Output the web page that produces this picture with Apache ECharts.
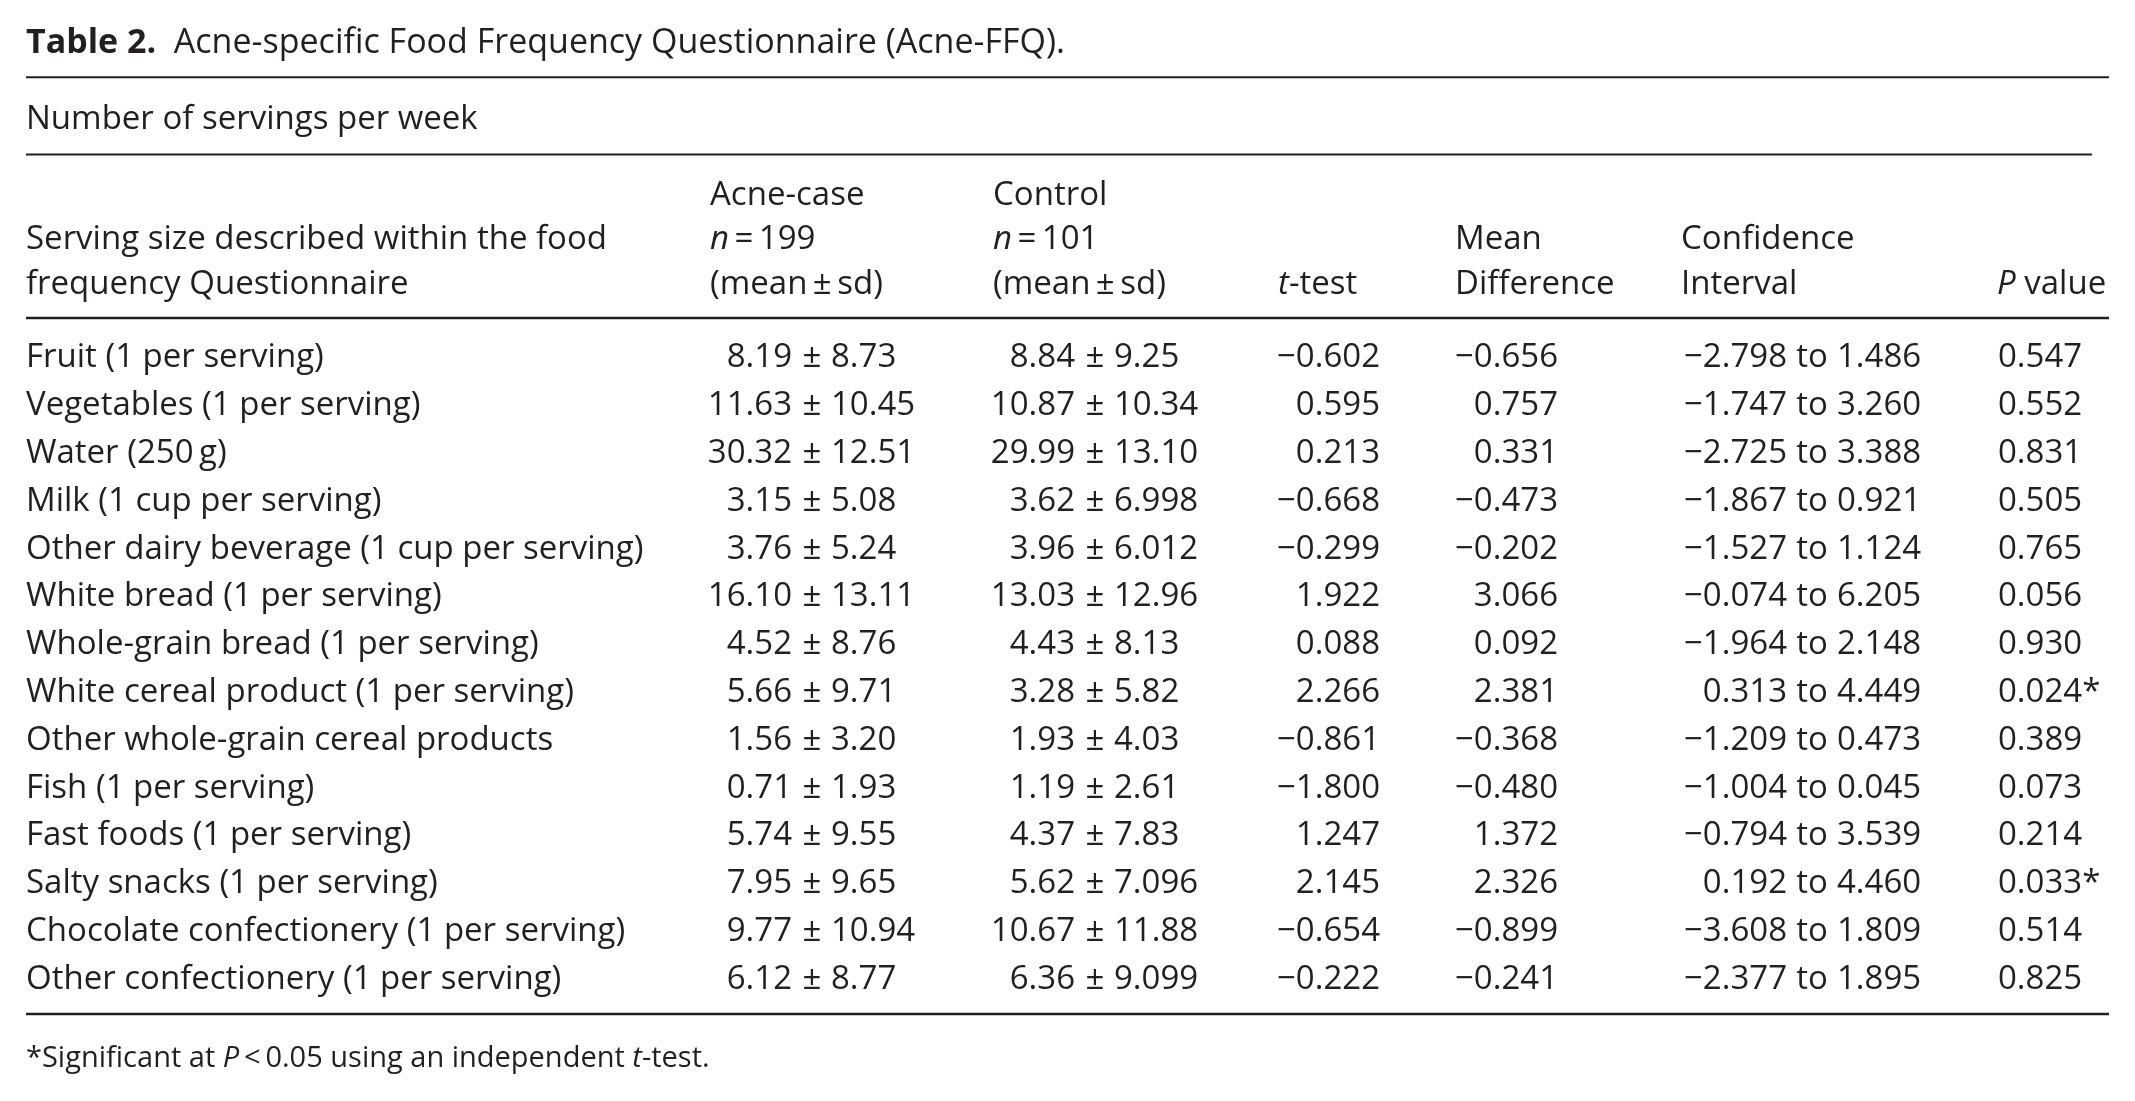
<!DOCTYPE html>
<html>
<head>
<meta charset="utf-8">
<title>Acne-FFQ table</title>
<script src="https://cdn.jsdelivr.net/npm/echarts@6/dist/echarts.min.js"></script>
<style>
  html, body { margin: 0; padding: 0; background: #fff; }
  #chart { width: 2135px; height: 1101px; }
</style>
</head>
<body>
<div id="chart"></div>
<script>
// table rows, kept as strings so the printed decimals stay as in the paper
const foods = [
  'Fruit (1 per serving)',
  'Vegetables (1 per serving)',
  'Water (250\u2009g)',
  'Milk (1 cup per serving)',
  'Other dairy beverage (1 cup per serving)',
  'White bread (1 per serving)',
  'Whole-grain bread (1 per serving)',
  'White cereal product (1 per serving)',
  'Other whole-grain cereal products',
  'Fish (1 per serving)',
  'Fast foods (1 per serving)',
  'Salty snacks (1 per serving)',
  'Chocolate confectionery (1 per serving)',
  'Other confectionery (1 per serving)'
]
const acneMean = ['8.19', '11.63', '30.32', '3.15', '3.76', '16.10', '4.52', '5.66', '1.56', '0.71', '5.74', '7.95', '9.77', '6.12']
const acneSd = ['8.73', '10.45', '12.51', '5.08', '5.24', '13.11', '8.76', '9.71', '3.20', '1.93', '9.55', '9.65', '10.94', '8.77']
const controlMean = ['8.84', '10.87', '29.99', '3.62', '3.96', '13.03', '4.43', '3.28', '1.93', '1.19', '4.37', '5.62', '10.67', '6.36']
const controlSd = ['9.25', '10.34', '13.10', '6.998', '6.012', '12.96', '8.13', '5.82', '4.03', '2.61', '7.83', '7.096', '11.88', '9.099']
const tTest = ['−0.602', '0.595', '0.213', '−0.668', '−0.299', '1.922', '0.088', '2.266', '−0.861', '−1.800', '1.247', '2.145', '−0.654', '−0.222']
const meanDiff = ['−0.656', '0.757', '0.331', '−0.473', '−0.202', '3.066', '0.092', '2.381', '−0.368', '−0.480', '1.372', '2.326', '−0.899', '−0.241']
const ciLow = ['−2.798', '−1.747', '−2.725', '−1.867', '−1.527', '−0.074', '−1.964', '0.313', '−1.209', '−1.004', '−0.794', '0.192', '−3.608', '−2.377']
const ciHigh = ['1.486', '3.260', '3.388', '0.921', '1.124', '6.205', '2.148', '4.449', '0.473', '0.045', '3.539', '4.460', '1.809', '1.895']
const pValue = ['0.547', '0.552', '0.831', '0.505', '0.765', '0.056', '0.930', '0.024*', '0.389', '0.073', '0.214', '0.033*', '0.514', '0.825']

const INK = '#231f20'
const FAMILY = '"Open Sans", Lato, sans-serif'
const BODY = 33
const midOf = size => size * 0.26   // baseline -> text middle

// column anchors (px)
const COL = {
  food: 26,
  acnePm: 812, control: 1095,
  tRight: 1380, diffRight: 1558,
  toMid: 1812, pLeft: 1998
}

const chart = echarts.init(document.getElementById('chart'))

const txt = (x, base, text, size = BODY) => ({
  type: 'text',
  style: {
    x, y: base - midOf(size), text,
    fill: INK, fontFamily: FAMILY, fontSize: size,
    align: 'left', verticalAlign: 'middle',
    rich: {
      i: { fontStyle: 'italic', fontFamily: FAMILY, fontSize: size, fill: INK },
      b: { fontWeight: 'bold', fontFamily: FAMILY, fontSize: size, fill: INK }
    }
  }
})

const rule = (y, x2, w) => ({
  type: 'line',
  shape: { x1: 26, y1: y, x2, y2: y },
  style: { stroke: INK, lineWidth: w }
})

const L1 = 204, L2 = 248.5, L3 = 293.5
const ROW1 = 366.5, ROWH = 47.8
const gridTop = ROW1 - midOf(BODY) - ROWH / 2

chart.setOption({
  animation: false,
  grid: { left: 0, right: 0, top: gridTop, bottom: 1101 - gridTop - ROWH * foods.length },
  xAxis: { type: 'value', min: 0, max: 2135, show: false },
  yAxis: { type: 'category', data: foods, inverse: true, show: false },
  graphic: [
    txt(26, 51.7, '{b|Table 2.}  Acne-specific Food Frequency Questionnaire (Acne-FFQ).', 34),
    rule(77.3, 2109, 2),
    txt(26, 128.3, 'Number of servings per week'),
    rule(154.5, 2092, 2),
    txt(26, L2, 'Serving size described within the food'),
    txt(26, L3, 'frequency Questionnaire'),
    txt(710, L1, 'Acne-case'),
    txt(710, L2, '{i|n}\u2009=\u2009199'),
    txt(710, L3, '(mean\u2009±\u2009sd)'),
    txt(993, L1, 'Control'),
    txt(993, L2, '{i|n}\u2009=\u2009101'),
    txt(993, L3, '(mean\u2009±\u2009sd)'),
    txt(1278, L3, '{i|t}-test'),
    txt(1455, L2, 'Mean'),
    txt(1455, L3, 'Difference'),
    txt(1681, L2, 'Confidence'),
    txt(1681, L3, 'Interval'),
    txt(1997, L3, '{i|P} value'),
    rule(318, 2109, 2.5),
    rule(1014, 2109, 2.5),
    txt(26, 1066, '*Significant at {i|P}\u2009<\u20090.05 using an independent {i|t}-test.', 29)
  ],
  series: [{
    type: 'custom',
    coordinateSystem: 'cartesian2d',
    data: foods.map((f, i) => [0, i]),
    renderItem: (params, api) => {
      const i = params.dataIndex
      const y = api.coord([0, i])[1]
      const cell = (x, text, align) => ({
        type: 'text',
        style: { x, y, text, align, verticalAlign: 'middle', fill: INK, fontFamily: FAMILY, fontSize: BODY }
      })
      return {
        type: 'group',
        children: [
          cell(COL.food, foods[i], 'left'),
          cell(COL.acnePm - 20, acneMean[i], 'right'),
          cell(COL.acnePm, '±', 'center'),
          cell(COL.acnePm + 19, acneSd[i], 'left'),
          cell(COL.control - 20, controlMean[i], 'right'),
          cell(COL.control, '±', 'center'),
          cell(COL.control + 19, controlSd[i], 'left'),
          cell(COL.tRight, tTest[i], 'right'),
          cell(COL.diffRight, meanDiff[i], 'right'),
          cell(COL.toMid - 25, ciLow[i], 'right'),
          cell(COL.toMid, 'to', 'center'),
          cell(COL.toMid + 25, ciHigh[i], 'left'),
          cell(COL.pLeft, pValue[i], 'left')
        ]
      }
    }
  }]
})
</script>
</body>
</html>
